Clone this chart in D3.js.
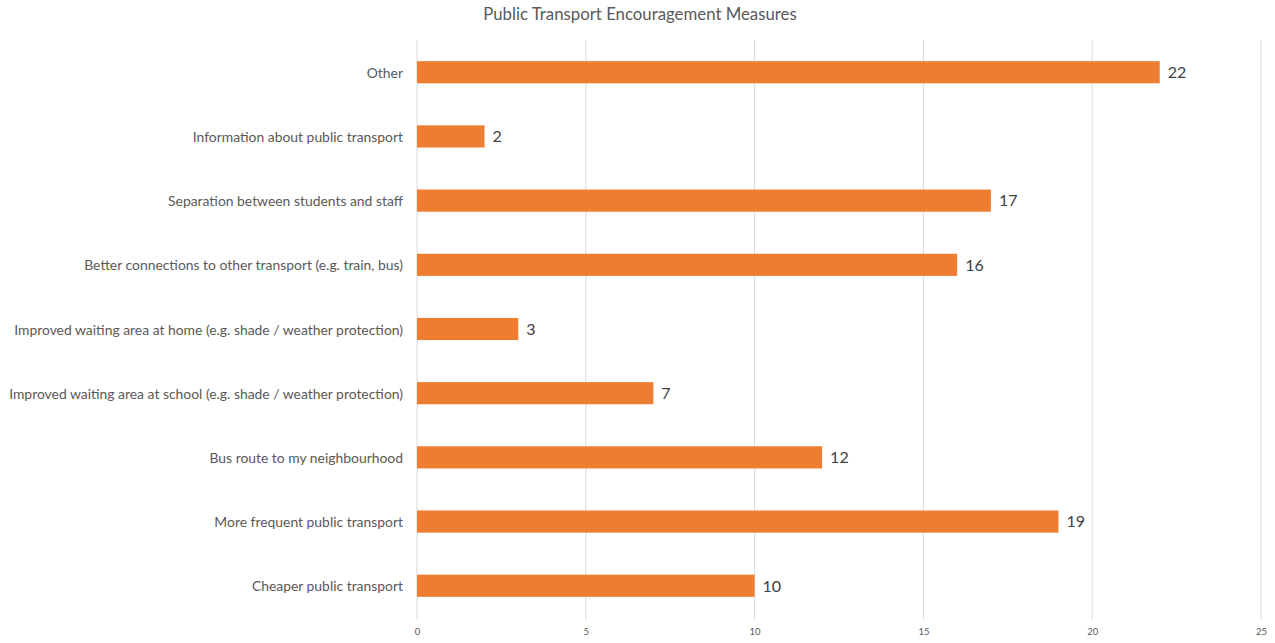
<!DOCTYPE html>
<html>
<head>
<meta charset="utf-8">
<script src="https://cdn.jsdelivr.net/npm/d3@7"></script>
<style>
  html, body { margin: 0; padding: 0; background: #fff; }
  svg { display: block; }
  text { font-family: Lato, "Open Sans", sans-serif; }
</style>
</head>
<body>
<svg id="chart" width="1275" height="643"></svg>
<script>
// Survey responses: what would encourage using public transport
const categories = [
  "Other",
  "Information about public transport",
  "Separation between students and staff",
  "Better connections to other transport (e.g. train, bus)",
  "Improved waiting area at home (e.g. shade / weather protection)",
  "Improved waiting area at school (e.g. shade / weather protection)",
  "Bus route to my neighbourhood",
  "More frequent public transport",
  "Cheaper public transport"
];
const counts = [22, 2, 17, 16, 3, 7, 12, 19, 10];
const xTicks = [0, 5, 10, 15, 20, 25];
const title = "Public Transport Encouragement Measures";

const svg = d3.select("#chart");
const margin = { top: 40, right: 14, bottom: 25, left: 417 };

const x = d3.scaleLinear().domain([0, 25]).range([margin.left, 1261]);
const y = d3.scaleBand().domain(categories).range([margin.top, 618]).paddingInner(0.655).paddingOuter(0.33);

// Title
svg.append("text")
  .attr("x", 640).attr("y", 20)
  .attr("text-anchor", "middle")
  .attr("font-size", 16.8)
  .attr("fill", "#595959")
  .text(title);

// Vertical gridlines
svg.append("g").selectAll("line")
  .data(xTicks)
  .join("line")
  .attr("x1", d => x(d)).attr("x2", d => x(d))
  .attr("y1", 40).attr("y2", 620)
  .attr("stroke", "#d9d9d9")
  .attr("stroke-width", 1);

// Bottom axis labels
const xAxis = d3.axisBottom(x).tickValues(xTicks).tickSize(0).tickPadding(0);
const gx = svg.append("g").attr("transform", "translate(0,628)").call(xAxis);
gx.select(".domain").remove();
gx.selectAll("text")
  .attr("font-family", "Lato, sans-serif")
  .attr("font-size", 9.5)
  .attr("fill", "#595959")
  .attr("dy", "0.71em");

// Category axis labels
const yAxis = d3.axisLeft(y).tickSize(0).tickPadding(14);
const gy = svg.append("g").attr("transform", `translate(${margin.left},0)`).call(yAxis);
gy.select(".domain").remove();
gy.selectAll("text")
  .attr("font-family", "Lato, sans-serif")
  .attr("font-size", 13.9)
  .attr("fill", "#595959")
  .attr("dy", "0.4em");

// Bars
svg.append("g").selectAll("rect")
  .data(categories)
  .join("rect")
  .attr("x", x(0))
  .attr("y", d => y(d))
  .attr("width", (d, i) => x(counts[i]) - x(0))
  .attr("height", y.bandwidth())
  .attr("fill", "#ed7d31");

// Value labels
svg.append("g").selectAll("text")
  .data(categories)
  .join("text")
  .attr("x", (d, i) => x(counts[i]) + 8)
  .attr("y", d => y(d) + y.bandwidth() / 2)
  .attr("dy", "0.36em")
  .attr("font-size", 16)
  .attr("fill", "#404040")
  .text((d, i) => counts[i]);
</script>
</body>
</html>
